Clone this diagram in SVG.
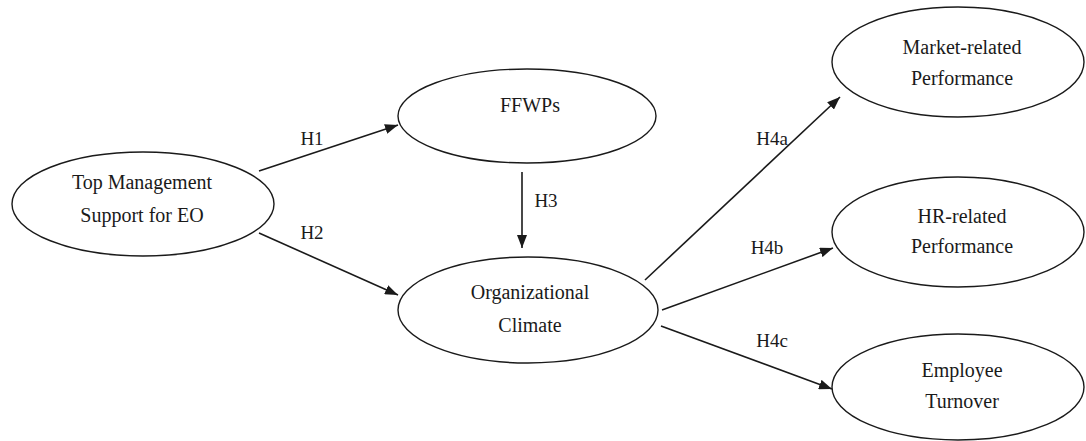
<svg xmlns="http://www.w3.org/2000/svg" width="1086" height="441" viewBox="0 0 1086 441" font-family="'Liberation Serif', 'DejaVu Serif', serif">
<style>
.node ellipse{fill:#fff;stroke:#1a1a1a;stroke-width:1.4}
.node text{font-size:20px;fill:#1a1a1a;text-anchor:middle}
.conn line{stroke:#1a1a1a;stroke-width:1.6;marker-end:url(#ah)}
.lbl{font-size:19px;fill:#1a1a1a;text-anchor:middle}
</style>
<defs>
<marker id="ah" markerUnits="userSpaceOnUse" markerWidth="14" markerHeight="10" refX="13" refY="5" orient="auto">
<path d="M0,0 L13,5 L0,10 z" fill="#1a1a1a"/>
</marker>
</defs>
<rect width="1086" height="441" fill="#fff"/>
<g id="connectors" class="conn">
<line x1="259" y1="171" x2="398" y2="125"/>
<line x1="259" y1="233" x2="398" y2="295"/>
<line x1="522" y1="172" x2="522" y2="248"/>
<line x1="645" y1="280" x2="840" y2="97"/>
<line x1="662" y1="310" x2="833" y2="248"/>
<line x1="661" y1="326" x2="832" y2="389"/>
<text class="lbl" x="312" y="145">H1</text>
<text class="lbl" x="312" y="239">H2</text>
<text class="lbl" x="546" y="207">H3</text>
<text class="lbl" x="772" y="145">H4a</text>
<text class="lbl" x="767" y="254">H4b</text>
<text class="lbl" x="772" y="347">H4c</text>
</g>
<g id="top-management" class="node">
<ellipse cx="143" cy="204" rx="131" ry="52"/>
<text x="142" y="189">Top Management</text>
<text x="142" y="222">Support for EO</text>
</g>
<g id="ffwps" class="node">
<ellipse cx="527" cy="116" rx="129" ry="47"/>
<text x="530" y="112">FFWPs</text>
</g>
<g id="organizational-climate" class="node">
<ellipse cx="528" cy="310" rx="130" ry="53"/>
<text x="530" y="299">Organizational</text>
<text x="530" y="332">Climate</text>
</g>
<g id="market-performance" class="node">
<ellipse cx="958" cy="62" rx="126" ry="55"/>
<text x="962" y="54">Market-related</text>
<text x="962" y="85">Performance</text>
</g>
<g id="hr-performance" class="node">
<ellipse cx="958" cy="232" rx="126" ry="55"/>
<text x="962" y="223">HR-related</text>
<text x="962" y="253">Performance</text>
</g>
<g id="employee-turnover" class="node">
<ellipse cx="958" cy="387" rx="126" ry="53"/>
<text x="962" y="377">Employee</text>
<text x="962" y="408">Turnover</text>
</g>
</svg>
